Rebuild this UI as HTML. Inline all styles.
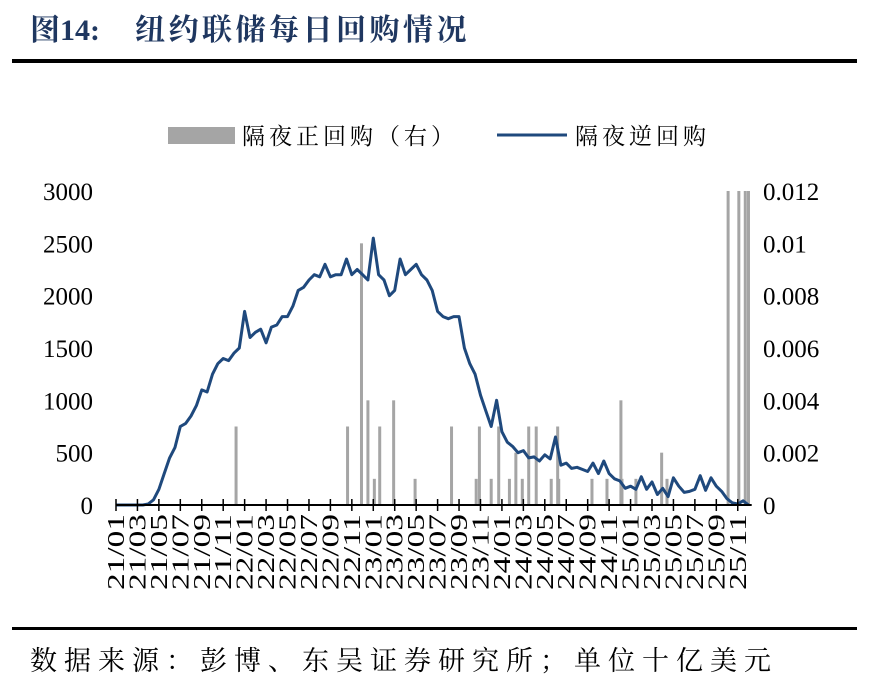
<!DOCTYPE html>
<html><head><meta charset="utf-8"><style>
html,body{margin:0;padding:0;background:#fff;width:869px;height:686px;overflow:hidden}
svg{display:block}
</style></head><body>
<svg id="chart" width="869" height="686" viewBox="0 0 869 686" font-family="'Liberation Serif','Noto Serif CJK SC',serif">
<text x="30" y="40" font-size="30" font-weight="bold" fill="#1f3760">图14:</text>
<text x="135" y="40" font-size="30" font-weight="bold" fill="#1f3760" letter-spacing="3.5">纽约联储每日回购情况</text>
<rect x="12" y="59" width="845" height="4" fill="#000"/>
<g>
<rect x="168" y="127" width="67" height="17" fill="#a5a5a5"/>
<text x="242" y="144" font-size="23" letter-spacing="4" fill="#000">隔夜正回购（右）</text>
<line x1="497" y1="135" x2="567" y2="135" stroke="#1f497d" stroke-width="3"/>
<text x="575" y="144" font-size="23" letter-spacing="4" fill="#000">隔夜逆回购</text>
</g>
<g id="bars"></g>
<path id="rrpline" fill="none" stroke="#1f497d" stroke-width="3" stroke-linejoin="round"/>
<g id="axes"></g>
<rect x="12" y="627" width="845" height="3" fill="#000"/>
<text x="30" y="670" font-size="27" letter-spacing="7" fill="#000">数据来源：彭博、东吴证券研究所；单位十亿美元</text>
</svg>
<script>
// months since 2021/01
const lineMonths = [0,0.5,1,1.5,2,2.5,3,3.5,4,4.5,5,5.5,6,6.5,7,7.5,8,8.5,9,9.5,10,10.5,11,11.5,12,12.5,13,13.5,14,14.5,15,15.5,16,16.5,17,17.5,18,18.5,19,19.5,20,20.5,21,21.5,22,22.5,23,23.5,24,24.5,25,25.5,26,26.5,27,27.5,28,28.5,29,29.5,30,30.5,31,31.5,32,32.5,33,33.5,34,34.5,35,35.5,36,36.5,37,37.5,38,38.5,39,39.5,40,40.5,41,41.5,42,42.5,43,43.5,44,44.5,45,45.5,46,46.5,47,47.5,48,48.5,49,49.5,50,50.5,51,51.5,52,52.5,53,53.5,54,54.5,55,55.5,56,56.5,57,57.5,58,58.5,59];
const lineValues = [0,0,0,0,0,0,10,50,150,300,450,550,750,780,850,950,1100,1080,1250,1350,1400,1380,1450,1500,1850,1600,1650,1680,1550,1700,1720,1800,1800,1900,2050,2080,2150,2200,2180,2300,2180,2200,2200,2350,2200,2250,2200,2150,2550,2200,2150,2000,2050,2350,2200,2250,2300,2200,2150,2050,1850,1800,1780,1800,1800,1500,1350,1250,1050,900,750,1000,700,600,560,500,520,450,460,420,480,440,650,380,400,350,360,340,320,400,300,420,300,250,230,160,180,150,270,150,220,100,160,80,260,180,120,130,150,280,140,260,180,130,60,20,10,40,0];
const barMonths = [11.2,21.6,22.9,23.5,24.1,24.6,25.9,27.9,31.3,33.6,33.9,35,35.7,36.7,37.3,37.9,38.5,39.2,40.6,41.2,41.3,44.4,45.8,47.1,47.2,48.5,50.9,51.4,57.1,58.1,58.7,59];
const barValues = [0.003,0.003,0.01,0.004,0.001,0.003,0.004,0.001,0.003,0.001,0.003,0.001,0.003,0.001,0.002,0.001,0.003,0.003,0.001,0.003,0.001,0.001,0.001,0.004,0.001,0.001,0.002,0.001,0.012,0.012,0.012,0.012];
const leftTicks = [0,500,1000,1500,2000,2500,3000];
const rightTicks = ["0","0.002","0.004","0.006","0.008","0.01","0.012"];
const xLabels = ["21/01","21/03","21/05","21/07","21/09","21/11","22/01","22/03","22/05","22/07","22/09","22/11","23/01","23/03","23/05","23/07","23/09","23/11","24/01","24/03","24/05","24/07","24/09","24/11","25/01","25/03","25/05","25/07","25/09","25/11"];

const X0=116, MW=10.72, Y0=505, YT=191;
const xs = m => X0 + m*MW;
const yL = v => Y0 - v/3000*(Y0-YT);
const yR = v => Y0 - v/0.012*(Y0-YT);
const NS="http://www.w3.org/2000/svg";
const bars=document.getElementById('bars');
barMonths.forEach((m,i)=>{
  const r=document.createElementNS(NS,'rect');
  r.setAttribute('x',xs(m)-1.5);r.setAttribute('width',3);
  r.setAttribute('y',yR(barValues[i]));r.setAttribute('height',Y0-yR(barValues[i]));
  r.setAttribute('fill','#a5a5a5');
  
  
  bars.appendChild(r);
});
document.getElementById('rrpline').setAttribute('d',lineMonths.map((m,i)=>(i?'L':'M')+xs(m).toFixed(1)+','+yL(lineValues[i]).toFixed(1)).join(''));
const ax=document.getElementById('axes');
function t(x,y,s,anchor,name,size,rot,len){
  const e=document.createElementNS(NS,'text');
  e.setAttribute('x',x);e.setAttribute('y',y);e.setAttribute('font-size',size);
  e.setAttribute('text-anchor',anchor);e.textContent=s;
  if(rot)e.setAttribute('transform',rot);
  if(len){e.setAttribute('textLength',len);e.setAttribute('lengthAdjust','spacingAndGlyphs');}
  
  
  ax.appendChild(e);
}
leftTicks.forEach(v=>t(93,yL(v)+9,String(v),'end','left-tick-label',25));
rightTicks.forEach((s,i)=>t(763,yL(leftTicks[i])+9,s,'start','right-tick-label',25));
const al=document.createElementNS(NS,'line');
al.setAttribute('x1',X0);al.setAttribute('x2',xs(59.3));al.setAttribute('y1',Y0);al.setAttribute('y2',Y0);
al.setAttribute('stroke','#000');al.setAttribute('stroke-width','2');


ax.appendChild(al);
xLabels.forEach((s,i)=>{
  const x=xs(i*2);
  const tk=document.createElementNS(NS,'line');
  tk.setAttribute('x1',x);tk.setAttribute('x2',x);tk.setAttribute('y1',Y0-6);tk.setAttribute('y2',Y0+6);
  tk.setAttribute('stroke','#000');tk.setAttribute('stroke-width','1.5');
  
  
  ax.appendChild(tk);
  t(x+8,514,s,'end','x-tick-label',24,'rotate(-90 '+(x+8)+' 514)',76);
});
</script>
</body></html>
